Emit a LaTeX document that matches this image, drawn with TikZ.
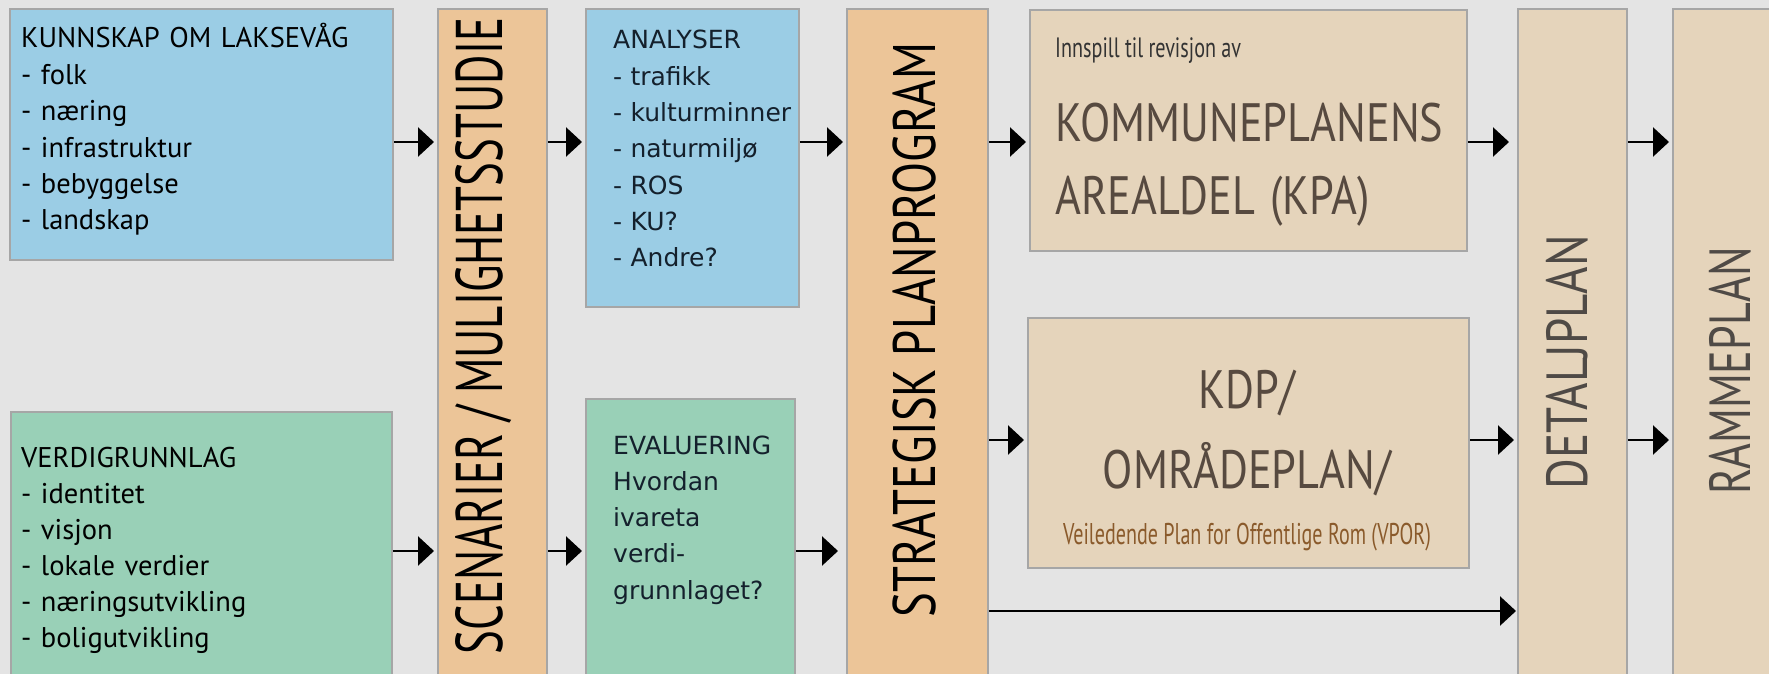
\documentclass[tikz,border=0pt]{standalone}
\usepackage{fontspec}
\setmainfont{PT Sans}
\newfontfamily\anafont{DejaVu Sans}
\usepackage{tikz}
\usetikzlibrary{positioning}
\usetikzlibrary{arrows.meta}

\definecolor{bgcol}{HTML}{E4E4E4}
\definecolor{edgecol}{HTML}{A6A6A6}
\definecolor{bluebox}{HTML}{9BCDE5}
\definecolor{greenbox}{HTML}{99D0B7}
\definecolor{orangebox}{HTML}{ECC598}
\definecolor{beigebox}{HTML}{E5D4BB}
\definecolor{plantext}{HTML}{574A40}
\definecolor{vportext}{HTML}{8A5A2B}
\definecolor{coltext}{HTML}{4F4A46}
\definecolor{anatext}{HTML}{14202C}

\newcommand{\squeeze}[2]{\scalebox{#1}[1]{#2}}

\tikzset{
  box/.style={draw=edgecol, line width=1.8pt, anchor=north west, inner sep=0pt},
  txt/.style={anchor=base west, inner sep=0pt, align=left},
  arr/.style={line width=2.5pt, -{Triangle[length=16pt,width=29pt]}, shorten >=3pt},
  coltxt/.style={rotate=90, inner sep=0pt},
}

\begin{document}
\begin{tikzpicture}[x=1pt,y=-1pt]
        \useasboundingbox (0,0) rectangle (1769,674);
        \clip (0,0) rectangle (1769,674);
        \fill[bgcol] (0,0) rectangle (1769,674);

        % boxes
        \node[box, fill=bluebox, minimum width=383pt, minimum height=251pt] (kunnskap) at (9,8) {};
        \node[box, fill=greenbox, minimum width=381pt, minimum height=300pt] (verdi) at (10,411) {};
        \node[box, fill=orangebox, minimum width=109pt, minimum height=700pt] (scen) at (437,8) {};
        \node[box, fill=bluebox, minimum width=213pt, minimum height=298pt] (analyser) at (585,8) {};
        \node[box, fill=greenbox, minimum width=209pt, minimum height=300pt] (eval) at (585,398) {};
        \node[box, fill=orangebox, minimum width=141pt, minimum height=700pt] (strat) at (846,8) {};
        \node[box, fill=beigebox, minimum width=437pt, minimum height=241pt] (kpa) at (1029,9) {};
        \node[box, fill=beigebox, minimum width=441pt, minimum height=250pt] (kdp) at (1027,317) {};
        \node[box, fill=beigebox, minimum width=109pt, minimum height=700pt] (detalj) at (1517,8) {};
        \node[box, fill=beigebox, minimum width=150pt, minimum height=700pt] (ramme) at (1672,8) {};

        % texts
        \node[txt, text width=360pt, font=\fontsize{28.5}{36.4}\selectfont] (kunnskaptxt) at (21,48)
          {KUNNSKAP OM LAKSEVÅG\\- folk\\- næring\\- infrastruktur\\- bebyggelse\\- landskap};
        \node[txt, text width=360pt, font=\fontsize{28.5}{36}\selectfont] (verditxt) at (21,467)
          {VERDIGRUNNLAG\\- identitet\\- visjon\\- lokale verdier\\- næringsutvikling\\- boligutvikling};
        \node[txt, text width=185pt, font=\anafont\fontsize{25}{36.3}\selectfont, text=anatext] (analysertxt) at (613,49)
          {ANALYSER\\- trafikk\\- kulturminner\\- naturmiljø\\- ROS\\- KU?\\- Andre?};
        \node[txt, text width=185pt, font=\anafont\fontsize{25}{36.3}\selectfont, text=anatext] (evaltxt) at (613,454)
          {EVALUERING\\Hvordan\\ivareta\\verdi-\\grunnlaget?};
        \node[txt, font=\fontsize{28}{28}\selectfont, text=black!80] (innspill) at (1055,58)
          {\squeeze{0.72}{Innspill til revisjon av}};
        \node[txt, text width=420pt, font=\fontsize{54}{73}\selectfont, text=plantext] (kpatxt) at (1055,142)
          {\squeeze{0.82}{KOMMUNEPLANENS}\\\squeeze{0.82}{AREALDEL (KPA)}};
        \node[anchor=base, inner sep=0pt, text width=441pt, align=center, font=\fontsize{54}{80}\selectfont, text=plantext] (kdptxt) at (1247,408)
          {\squeeze{0.82}{KDP/}\\\squeeze{0.82}{OMRÅDEPLAN/}};
        \node[anchor=base, inner sep=0pt, font=\fontsize{30}{30}\selectfont, text=vportext] (vpor) at (1247,544)
          {\squeeze{0.67}{Veiledende Plan for Offentlige Rom (VPOR)}};

        % column titles
        \node[coltxt, font=\fontsize{66}{66}\selectfont] (scentxt) at (484,336) {\squeeze{0.68}{SCENARIER / MULIGHETSSTUDIE}};
        \node[coltxt, font=\fontsize{60}{60}\selectfont] (strattxt) at (914,330) {\squeeze{0.78}{STRATEGISK PLANPROGRAM}};
        \node[coltxt, font=\fontsize{58}{58}\selectfont, text=coltext] (detaljtxt) at (1567,362) {\squeeze{0.81}{DETALJPLAN}};
        \node[coltxt, font=\fontsize{58}{58}\selectfont, text=coltext] (rammetxt) at (1730,371) {\squeeze{0.76}{RAMMEPLAN}};

        % arrow rows
        \coordinate (r1) at (0,142);
        \coordinate (r2) at (0,440);
        \coordinate (r3) at (0,551);
        \coordinate (r4) at (0,611);

        \draw[arr] (kunnskap.east |- r1) -- (scen.west |- r1);
        \draw[arr] (verdi.east |- r3) -- (scen.west |- r3);
        \draw[arr] (scen.east |- r1) -- (analyser.west |- r1);
        \draw[arr] (scen.east |- r3) -- (eval.west |- r3);
        \draw[arr] (analyser.east |- r1) -- (strat.west |- r1);
        \draw[arr, shorten >=8pt] (eval.east |- r3) -- (strat.west |- r3);
        \draw[arr] (strat.east |- r1) -- (kpa.west |- r1);
        \draw[arr] (strat.east |- r2) -- (kdp.west |- r2);
        \draw[arr, shorten >=1pt] (strat.east |- r4) -- (detalj.west |- r4);
        \draw[arr, shorten >=8pt] (kpa.east |- r1) -- (detalj.west |- r1);
        \draw[arr] (kdp.east |- r2) -- (detalj.west |- r2);
        \draw[arr] (detalj.east |- r1) -- (ramme.west |- r1);
        \draw[arr] (detalj.east |- r2) -- (ramme.west |- r2);
\end{tikzpicture}
\end{document}
